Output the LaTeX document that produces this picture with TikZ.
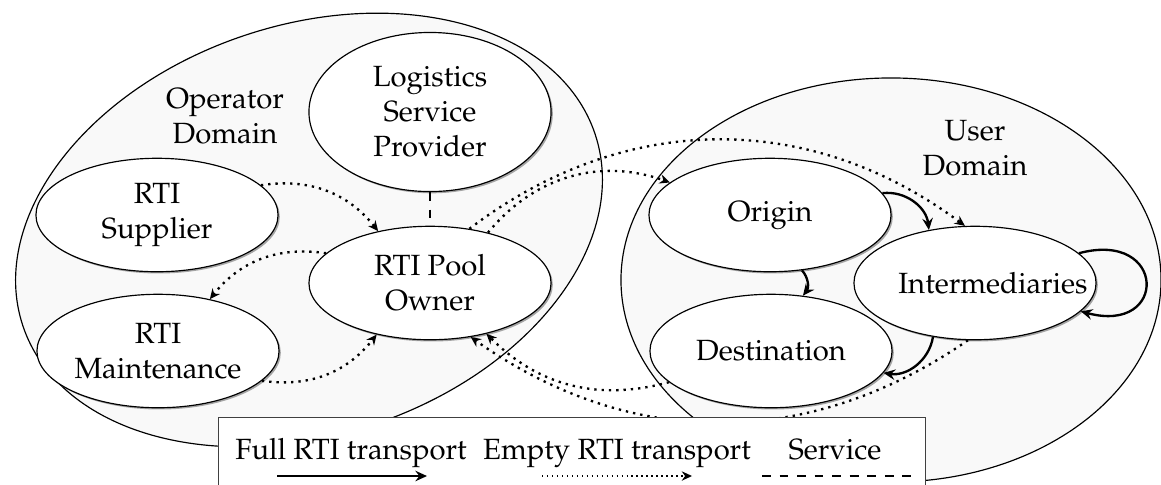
\documentclass[tikz,border=0pt]{standalone}
\usepackage[T1]{fontenc}
\usepackage{mathpazo}
\usetikzlibrary{arrows.meta,shapes.geometric,shadows}
\begin{document}
\begin{tikzpicture}[x=0.342pt,y=-0.342pt,
  font=\fontsize{10}{12}\selectfont,
  domainbox/.style={ellipse, draw=black, thin, fill=gray!5, inner sep=0pt},
  actor/.style={ellipse, draw=black, fill=white, inner sep=0pt, align=center,
    minimum width=82.8pt, minimum height=38.8pt,
    drop shadow={shadow xshift=0.6pt, shadow yshift=-0.6pt, fill=black!50, opacity=0.7}},
  full/.style={thick, -{Stealth[length=4pt,width=3.6pt,inset=1.4pt]}},
  empty/.style={line width=0.8pt, dash pattern=on 0.8pt off 1.7pt, -{Stealth[length=3.5pt,width=3.2pt]}},
  service/.style={thick, dashed},
  lbl/.style={align=center, inner sep=0pt},
]
\useasboundingbox (0,0) rectangle (1161,484);
% domains
\node[domainbox, minimum width=206.4pt, minimum height=140.2pt, rotate=18.6] (opd) at (309,230) {};
\node[domainbox, minimum width=184.7pt, minimum height=138.2pt] (usd) at (891,280) {};
\node[lbl] (opl) at (225,116) {Operator\\Domain};
\node[lbl] (usl) at (975,148) {User\\Domain};
% actors
\node[actor] (sup) at (157,215) {RTI\\Supplier};
\node[actor] (mnt) at (158,351) {RTI\\Maintenance};
\node[actor, minimum height=54.4pt] (lsp) at (430,112) {Logistics\\Service\\Provider};
\node[actor] (pool) at (430,283) {RTI Pool\\Owner};
\node[actor] (org) at (770,215) {Origin};
\node[actor] (dst) at (771,351) {Destination};
\node[actor] (int) at (975,283) {\makebox[0pt]{\hspace{12.3pt}Intermediaries}};
% connectors
\draw[empty] (sup.16) to[bend left=30] (pool.135);
\draw[empty] (pool.164) to[bend right=30] (mnt.45);
\draw[empty] (mnt.-16) to[bend right=30] (pool.224);
\draw[service] (lsp.south) -- (pool.north);
\draw[empty] (pool.54) to[bend left=37] (int.100);
\draw[empty] (pool.41) to[bend left=35] (org.162);
\draw[full] (org.11) to[bend left=45] (int.131);
\draw[full] (org.-60) to[bend left=40] (dst.60);
\draw[full] (int.232) to[bend left=45] (dst.-11);
\draw[full] (int.16) to[out=15,in=-15,looseness=4] (int.-15);
\draw[empty] (dst.197) to[bend left=30] (pool.-42);
\draw[empty] (int.263) to[bend left=35] (pool.-53);
% legend
\node[draw=black!75, fill=white, anchor=north west, minimum width=241.8pt, minimum height=40pt, inner sep=0pt] (leg) at (218,417) {};
\node[anchor=base] (lt1) at (351,459) {Full RTI transport};
\node[anchor=base] (lt2) at (617,459) {Empty RTI transport};
\node[anchor=base] (lt3) at (835,459) {Service};
\coordinate (a1) at (277,476);
\coordinate (a2) at (427,476);
\coordinate (b1) at (542,476);
\coordinate (b2) at (692,476);
\coordinate (c1) at (762,476);
\coordinate (c2) at (912,476);
\draw[full] (a1) -- (a2);
\draw[empty, line width=0.5pt, dash pattern=on 0.5pt off 1.2pt] (b1) -- (b2);
\draw[service] (c1) -- (c2);
\end{tikzpicture}
\end{document}
